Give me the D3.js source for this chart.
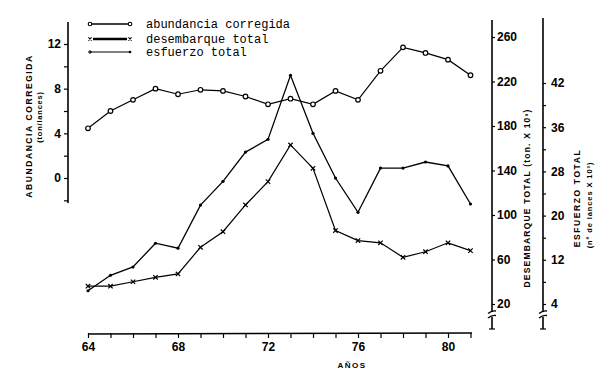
<!DOCTYPE html>
<html><head><meta charset="utf-8">
<script src="https://cdn.jsdelivr.net/npm/d3@7"></script>
<style>
body{margin:0;background:#fff}
svg{display:block}
.tick text{font-family:"Liberation Sans",Arial,sans-serif;font-weight:bold;font-size:12px;fill:#000}
</style></head><body>
<svg id="c" width="600" height="381"></svg>
<script>
const years = [64,65,66,67,68,69,70,71,72,73,74,75,76,77,78,79,80,81];
const abundancia = [4.45,6.0,7.0,8.0,7.5,7.9,7.8,7.3,6.6,7.1,6.6,7.8,7.0,9.6,11.7,11.2,10.6,9.2];
const desembarque = [36,36,40,44,47,71,85,109,130,163,142,86,77,75,62,67,75,68];
const esfuerzo = [6.4,9.2,10.7,15.0,14.1,21.9,26.2,31.5,33.8,45.4,34.9,26.8,20.6,28.6,28.6,29.7,29.0,22.1];
const xTickLabels = ["64","68","72","76","80"];
const leftTicks = [12,8,4,0];
const midTicks = [260,220,180,140,100,60,20];
const rightTicks = [44,36,28,20,12,4];
const rightTickLabels = ["42","36","28","20","12","4"];
const legendLabels = ["abundancia corregida","desembarque total","esfuerzo total"];

const svg = d3.select("#c");
const x = d3.scaleLinear().domain([64,81]).range([88,470.5]);
const yL = d3.scaleLinear().domain([0,12]).range([178,44]);
const yM = d3.scaleLinear().domain([20,260]).range([304,37]);
const yR = d3.scaleLinear().domain([4,44]).range([304,83]);

const ink = "#000";
function vline(xp,y1,y2,w){svg.append("line").attr("x1",xp).attr("x2",xp).attr("y1",y1).attr("y2",y2).attr("stroke",ink).attr("stroke-width",w||1.6);}

// Left axis
vline(68,22,203);
const gL = svg.append("g").attr("transform","translate(68,0)")
  .call(d3.axisLeft(yL).tickValues(d3.range(-2,13,2)).tickSize(4).tickPadding(3)
    .tickFormat(d => leftTicks.includes(d) ? String(d) : ""));
gL.select(".domain").remove();
gL.selectAll(".tick line").attr("stroke",ink).attr("stroke-width",1.2);

// Middle axis
vline(492,20,312);
vline(492,317,329);
const gM = svg.append("g").attr("transform","translate(492,0)")
  .call(d3.axisRight(yM).tickValues(midTicks).tickSize(3).tickPadding(2).tickFormat(d=>String(d)));
gM.select(".domain").remove();
gM.selectAll(".tick line").attr("stroke",ink).attr("stroke-width",1.2);

// Right axis
vline(543,18,312);
vline(543,317,329);
const gR = svg.append("g").attr("transform","translate(543,0)")
  .call(d3.axisRight(yR).tickValues(d3.range(4,45,4)).tickSize(3).tickPadding(5)
    .tickFormat(d => { const i = rightTicks.indexOf(d); return i>=0 ? rightTickLabels[i] : ""; }));
gR.select(".domain").remove();
gR.selectAll(".tick line").attr("stroke",ink).attr("stroke-width",1.2);

// Axis breaks
[492,543].forEach(xp=>{
  [312,316.5].forEach(yy=>{
    svg.append("path").attr("d",`M${xp-4},${yy+1.5} Q${xp},${yy-2} ${xp+4},${yy-1}`)
      .attr("fill","none").attr("stroke",ink).attr("stroke-width",1.3);
  });
  svg.append("line").attr("x1",xp-3).attr("x2",xp+3).attr("y1",329).attr("y2",329).attr("stroke",ink).attr("stroke-width",1.2);
});

// X axis
svg.append("line").attr("x1",88).attr("x2",472).attr("y1",334).attr("y2",333).attr("stroke",ink).attr("stroke-width",1.6);
const gX = svg.append("g").attr("transform","translate(0,334)")
  .call(d3.axisBottom(x).tickValues(years).tickSize(4).tickPadding(4)
    .tickFormat(d => xTickLabels.includes(String(d)) ? String(d) : ""));
gX.select(".domain").remove();
gX.selectAll(".tick line").attr("stroke",ink).attr("stroke-width",1.2).attr("y1",-1);

// Titles
function vtext(xp,yp,txt,size,spacing,weight){
  svg.append("text").attr("transform",`translate(${xp},${yp}) rotate(-90)`)
    .attr("text-anchor","middle").attr("font-family","Liberation Sans,Arial,sans-serif")
    .attr("font-weight",weight||"bold").attr("font-size",size).attr("letter-spacing",spacing)
    .attr("fill",ink).text(txt);
}
vtext(32,126,"ABUNDANCIA CORREGIDA",8.5,1.6);
vtext(42,117,"(ton/lances)",7.5,0.8);
vtext(530,198,"DESEMBARQUE TOTAL  (ton. X 10³)",8.5,1.2);
vtext(580,198,"ESFUERZO  TOTAL",8.5,1.6);
vtext(592,205,"(nº de lances X 10³)",7.5,0.9);
svg.append("text").attr("x",352).attr("y",368).attr("text-anchor","middle")
  .attr("font-family","Liberation Sans,Arial,sans-serif").attr("font-weight","bold")
  .attr("font-size",8).attr("letter-spacing",1.5).attr("fill",ink).text("AÑOS");

// Lines
const lineOf = (ys,vals) => d3.line().x((d,i)=>x(years[i])).y((d,i)=>ys(vals[i]))(vals);
svg.append("path").attr("d",lineOf(yR,esfuerzo)).attr("fill","none").attr("stroke",ink).attr("stroke-width",1.3);
svg.append("path").attr("d",lineOf(yM,desembarque)).attr("fill","none").attr("stroke",ink).attr("stroke-width",1.2);
svg.append("path").attr("d",lineOf(yL,abundancia)).attr("fill","none").attr("stroke",ink).attr("stroke-width",1.2);

// Markers
svg.selectAll(".ab").data(abundancia).enter().append("circle")
  .attr("cx",(d,i)=>x(years[i])).attr("cy",d=>yL(d)).attr("r",2.3)
  .attr("fill","#fff").attr("stroke",ink).attr("stroke-width",1.2);
const xmark = (cx,cy,s) => `M${cx-s},${cy-s}L${cx+s},${cy+s}M${cx-s},${cy+s}L${cx+s},${cy-s}`;
svg.selectAll(".de").data(desembarque).enter().append("path")
  .attr("d",(d,i)=>xmark(x(years[i]),yM(d),2.2)).attr("stroke",ink).attr("stroke-width",1.2).attr("fill","none");
svg.selectAll(".es").data(esfuerzo).enter().append("circle")
  .attr("cx",(d,i)=>x(years[i])).attr("cy",d=>yR(d)).attr("r",1.6).attr("fill",ink);

// Legend
const lg = svg.append("g");
const rowsY = [24,39,52];
const lx1 = 90, lx2 = 130;
// row 1
lg.append("line").attr("x1",lx1).attr("x2",lx2).attr("y1",rowsY[0]).attr("y2",rowsY[0]).attr("stroke",ink).attr("stroke-width",1.6);
[lx1,lx2].forEach(cx=>lg.append("circle").attr("cx",cx).attr("cy",rowsY[0]).attr("r",1.8).attr("fill","#fff").attr("stroke",ink).attr("stroke-width",1.1));
// row 2
lg.append("line").attr("x1",lx1+3).attr("x2",lx2-3).attr("y1",rowsY[1]).attr("y2",rowsY[1]).attr("stroke",ink).attr("stroke-width",2.6);
[lx1,lx2].forEach(cx=>lg.append("path").attr("d",xmark(cx,rowsY[1],1.6)).attr("stroke",ink).attr("stroke-width",1.1));
// row 3
lg.append("line").attr("x1",lx1).attr("x2",lx2).attr("y1",rowsY[2]).attr("y2",rowsY[2]).attr("stroke",ink).attr("stroke-width",1.1);
lg.append("path").attr("d",`M${lx1-2},${rowsY[2]}L${lx1+2},${rowsY[2]}M${lx1},${rowsY[2]-2}L${lx1},${rowsY[2]+2}`).attr("stroke",ink).attr("stroke-width",1);
lg.append("circle").attr("cx",lx2).attr("cy",rowsY[2]).attr("r",1.3).attr("fill",ink);
legendLabels.forEach((t,i)=>{
  lg.append("text").attr("x",146).attr("y",rowsY[i]+4).attr("font-family","Liberation Mono,DejaVu Sans Mono,monospace")
    .attr("font-size",12).attr("fill",ink).text(t);
});
</script>
</body></html>
